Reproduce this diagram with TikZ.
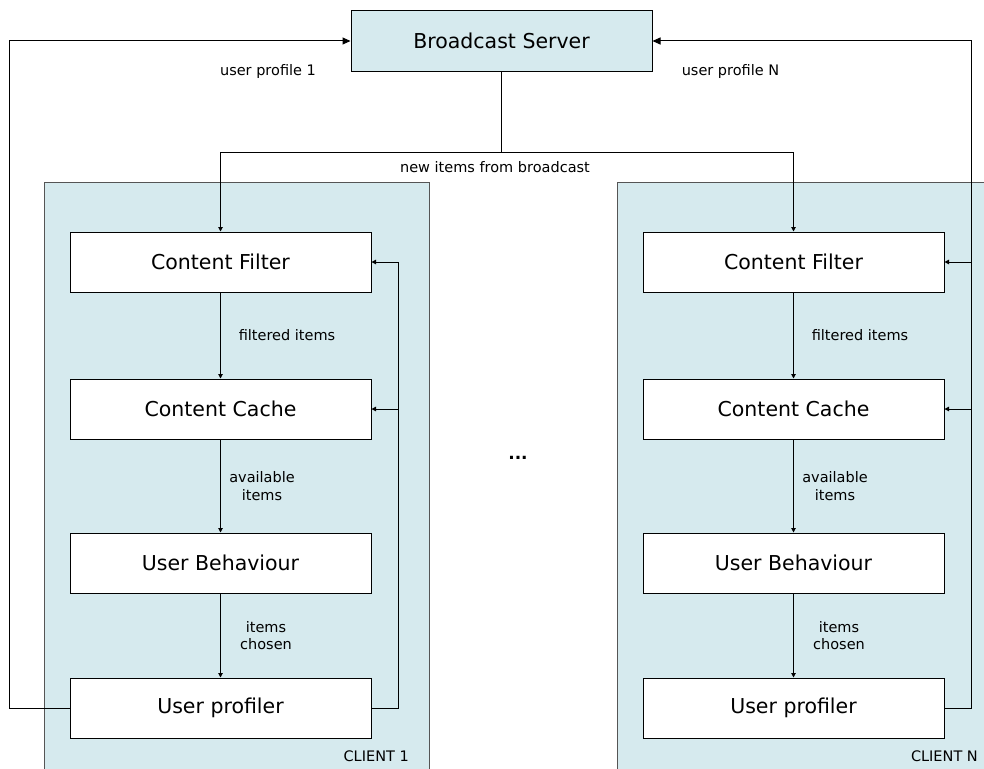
\documentclass[tikz,border=0pt]{standalone}
\usepackage{fontspec}
\setmainfont{DejaVu Sans}
\usepackage{tikz}
\usetikzlibrary{positioning,arrows.meta}
\definecolor{paleblue}{RGB}{214,234,238}
\definecolor{boxgrey}{RGB}{85,85,85}
\tikzset{
  block/.style={draw, fill=white, line width=1pt, minimum width=301pt, minimum height=60pt, inner sep=0pt, font=\fontsize{20.5}{24}\selectfont},
  serverblock/.style={block, fill=paleblue},
  clientbox/.style={draw=boxgrey, fill=paleblue, line width=1pt},
  itemlabel/.style={inner sep=0pt, align=center, font=\fontsize{14.5}{17.5}\selectfont},
  flowarrow/.style={line width=1pt, -{Triangle[length=4.5pt,width=4.5pt]}},
  feedarrow/.style={line width=1pt, -{Triangle[length=8pt,width=7pt]}}
}

\begin{document}
\begin{tikzpicture}[x=1pt,y=-1pt]
        \useasboundingbox (0,0) rectangle (984,768);
        \draw[clientbox] (44.5,182) rectangle (429,800);
        \draw[clientbox] (617,182) rectangle (1000,800);
        \node[serverblock] (server) at (501.5,41) {Broadcast Server};
        \node[block] (cf1) at (220.5,262) {Content Filter};
        \node[block, below=86pt of cf1] (cc1) {Content Cache};
        \node[block, below=93pt of cc1] (ub1) {User Behaviour};
        \node[block, below=84pt of ub1] (up1) {User profiler};
        \node[block] (cfN) at (793.5,262) {Content Filter};
        \node[block, below=86pt of cfN] (ccN) {Content Cache};
        \node[block, below=93pt of ccN] (ubN) {User Behaviour};
        \node[block, below=84pt of ubN] (upN) {User profiler};
        \coordinate (bus) at (501.5,152);
        \path (up1.east) -- ++(27,0) coordinate (loop1);
        \path (up1.west) -- ++(-60,0) coordinate (back1);
        \path (upN.east) -- ++(27,0) coordinate (loopN);
        \draw[line width=1pt] (server.south) -- (bus);
        \draw[flowarrow] (bus) -| (cf1.north);
        \draw[flowarrow] (bus) -| (cfN.north);
        \node[itemlabel] (newitems) at (495,167) {new items from broadcast};
        \foreach \c in {1,N} {
        \draw[flowarrow] (cf\c) -- node[itemlabel, xshift=66.5pt] {filtered items} (cc\c);
        \draw[flowarrow] (cc\c) -- node[itemlabel, xshift=41.5pt] {available\\items} (ub\c);
        \draw[flowarrow] (ub\c) -- node[itemlabel, xshift=45.5pt] {items\\chosen} (up\c);
        \draw[line width=1pt] (up\c.east) -- (loop\c);
        \draw[flowarrow] (loop\c) |- (cf\c.east);
        \draw[flowarrow] (loop\c) |- (cc\c.east);
        }
        \draw[feedarrow] (up1.west) -- (back1) |- (server.west);
        \draw[feedarrow] (loopN) |- (server.east);
        \node[itemlabel] (profile1) at (268,71) {user profile 1};
        \node[itemlabel] (profileN) at (730.5,71) {user profile N};
        \node[font=\fontsize{17}{20}\selectfont\bfseries] (dots) at (518,458) {...};
        \node[itemlabel, anchor=east] (client1) at (409,756) {CLIENT 1};
        \node[itemlabel, anchor=east] (clientN) at (978,756) {CLIENT N};
\end{tikzpicture}
\end{document}
